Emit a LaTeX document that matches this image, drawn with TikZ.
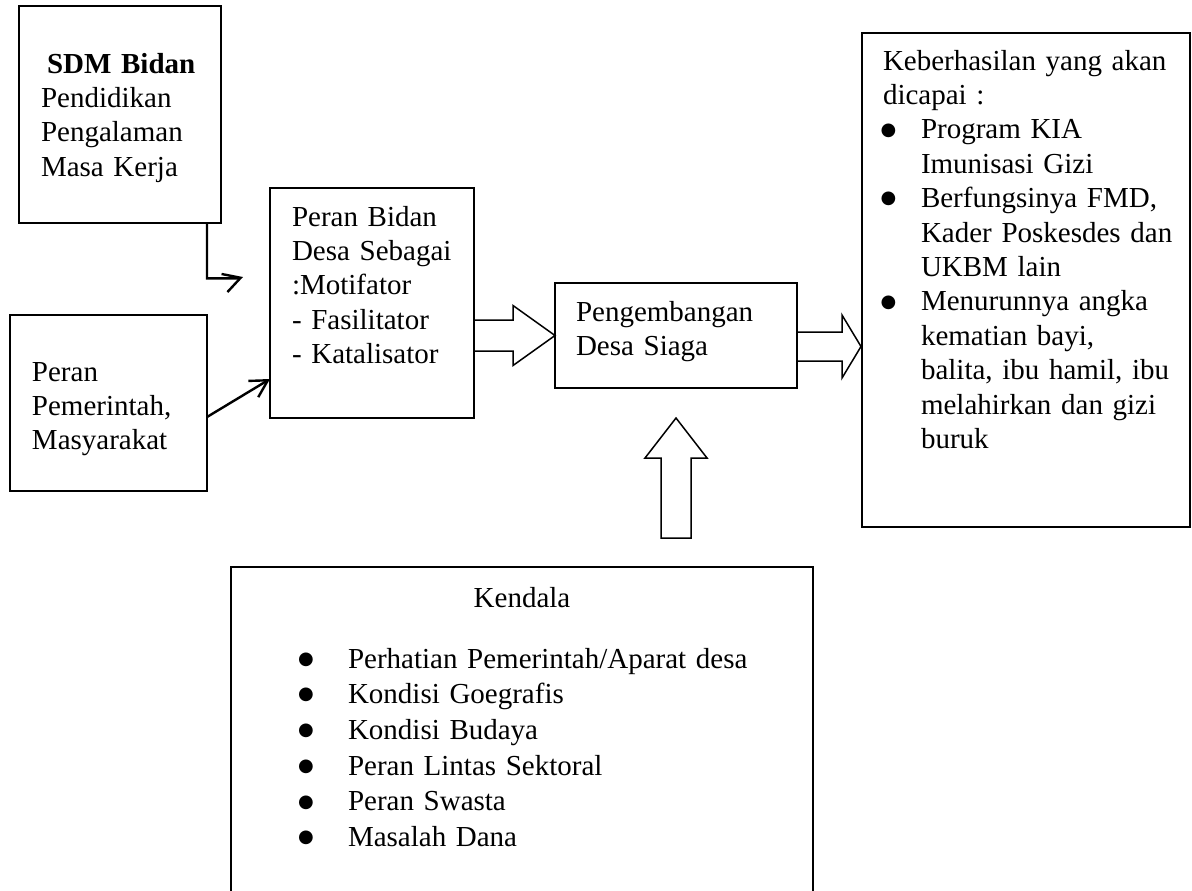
\documentclass[tikz,border=0pt]{standalone}
\usepackage{fontspec}
\setmainfont{Liberation Serif}
\newfontfamily\simbol{DejaVu Sans}
\usetikzlibrary{arrows.meta,fit}

% titik butir: #1 = letak tengah titik, #2 = awal teks
\newcommand{\butir}[2]{\makebox[#2][l]{\hspace*{#1}\makebox[0pt]{\raisebox{1.9pt}{\simbol\fontsize{9pt}{9pt}\selectfont ●}}}}

\tikzset{
  kotak/.style={draw, line width=1pt, inner sep=0pt, outer sep=0pt, fit={#1}},
  teks/.style={anchor=base west, inner sep=0pt, outer sep=0pt, align=left,
    text width=#1, font=\fontsize{14.5pt}{17.2pt}\selectfont},
  panahblok/.style={line width=0.75pt, line join=miter},
  panahgaris/.style={line width=1.2pt, -{Straight Barb[length=8.5pt,width=9.5pt]}}
}

\begin{document}
\begin{tikzpicture}[x=0.5pt,y=-0.5pt]
  \useasboundingbox (0,0) rectangle (1192,890);
  % ===================== kotak =====================
  % SDM bidan (kiri atas)
  \node[kotak={(19,6) (221,223)}, line width=1.4pt] (sdm) {};
  \node[teks=95pt] (sdmtxt) at (41,73) {\hspace*{3pt}\textbf{SDM Bidan}\\Pendidikan\\Pengalaman\\Masa Kerja};
  % peran pemerintah (kiri bawah)
  \node[kotak={(10,315) (207,491)}] (pemerintah) {};
  \node[teks=90pt] (pemerintahtxt) at (32,381) {Peran\\Pemerintah,\\Masyarakat};
  % peran bidan desa
  \node[kotak={(270,188) (474,418)}] (bidan) {};
  \node[teks=95pt] (bidantxt) at (292,226) {Peran Bidan\\Desa Sebagai\\:Motifator\\- Fasilitator\\- Katalisator};
  % pengembangan desa siaga
  \node[kotak={(555,283) (797,388)}] (desa) {};
  \node[teks=115pt] (desatxt) at (576,321) {Pengembangan\\Desa Siaga};
  % keberhasilan (kanan)
  \node[kotak={(862,33) (1190,527)}] (hasil) {};
  \node[teks=155pt] (hasiltxt) at (883,70) {Keberhasilan yang akan\\dicapai :\\
    \butir{2.75pt}{19pt}Program KIA\\\hspace*{19pt}Imunisasi Gizi\\
    \butir{2.75pt}{19pt}Berfungsinya FMD,\\\hspace*{19pt}Kader Poskesdes dan\\\hspace*{19pt}UKBM lain\\
    \butir{2.75pt}{19pt}Menurunnya angka\\\hspace*{19pt}kematian bayi,\\\hspace*{19pt}balita, ibu hamil, ibu\\
    \hspace*{19pt}melahirkan dan gizi\\\hspace*{19pt}buruk};
  % kendala (bawah)
  \node[kotak={(231,567) (813,905)}] (kendala) {};
  \node[anchor=base, inner sep=0pt, font=\fontsize{14.5pt}{17.2pt}\selectfont] (kendalatxt) at (522,607) {Kendala};
  \node[teks=240pt, font=\fontsize{14.5pt}{17.85pt}\selectfont] (kendalalist) at (300,668) {\butir{3pt}{24pt}Perhatian Pemerintah/Aparat desa\\
    \butir{3pt}{24pt}Kondisi Goegrafis\\\butir{3pt}{24pt}Kondisi Budaya\\\butir{3pt}{24pt}Peran Lintas Sektoral\\
    \butir{3pt}{24pt}Peran Swasta\\\butir{3pt}{24pt}Masalah Dana};
  % ===================== panah =====================
  % SDM -> peran bidan (siku)
  \coordinate (sdmkink) at (239,278.3);
  \coordinate (sdmend) at (243,277);
  \draw[panahgaris] ([xshift=-7pt]sdm.south east) |- (sdmkink) -- (sdmend);
  % pemerintah -> peran bidan
  \draw[panahgaris] ([yshift=-7pt]pemerintah.east) -- ([yshift=-38pt]bidan.west);
  % peran bidan -> pengembangan
  \draw[panahblok] ([yshift=7.75pt]bidan.east |- desa.west) -- ++(39,0) -- ++(0,-14.5) -- (desa.west)
    -- ++(-42,30) -- ++(0,-14.5) -- ([yshift=-7.75pt]bidan.east |- desa.west);
  % pengembangan -> keberhasilan
  \draw[panahblok] ([yshift=1.75pt]desa.east) -- ++(45,0) -- ++(0,-17) -- ++(19,31.5)
    -- ++(-19,31.5) -- ++(0,-17) -- ([yshift=-12.75pt]desa.east);
  % kendala -> pengembangan
  \draw[panahblok] ([yshift=-15pt]desa.south) -- ++(31,40) -- ++(-16,0) -- ++(0,80)
    -- ++(-30,0) -- ++(0,-80) -- ++(-16,0) -- cycle;
\end{tikzpicture}
\end{document}
